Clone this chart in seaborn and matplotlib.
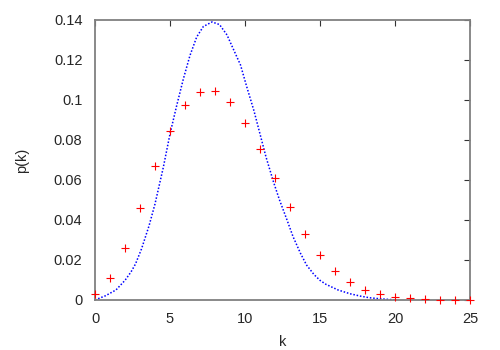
import numpy as np
import pandas as pd
import matplotlib
matplotlib.use("Agg")
import matplotlib.pyplot as plt
import seaborn as sns

# measured points (red +)
k_points = list(range(26))
p_points = [0.0028, 0.0112, 0.0262, 0.0458, 0.0670, 0.0847, 0.0973, 0.1040,
            0.1047, 0.0988, 0.0887, 0.0755, 0.0608, 0.0463, 0.0328, 0.0225,
            0.0143, 0.0088, 0.0048, 0.0028, 0.0015, 0.0008, 0.0003, 0.0002,
            0.0001, 0.00005]

# fitted curve (blue dotted)
k_curve = [0.0, 0.7, 1.4, 2.0, 2.4, 2.7, 3.1, 3.6, 4.0, 4.56, 5.0, 5.44, 5.89,
           6.33, 6.78, 7.22, 7.8, 8.3, 8.8, 9.2, 9.7, 10.1, 10.6, 11.0,
           11.4, 11.9, 12.3, 12.8, 13.2, 13.7, 14.1, 14.6, 15.0, 15.4,
           16.2, 17.0, 17.7, 18.3, 19.0, 19.7, 20.0]
p_curve = [0.0, 0.0021, 0.0050, 0.0098, 0.0140, 0.0180, 0.0255, 0.0370, 0.0480,
           0.0665, 0.0830, 0.0970, 0.1105, 0.1222, 0.1315, 0.1367, 0.1390,
           0.1377, 0.1325, 0.1258, 0.1175, 0.1070, 0.0945, 0.0830, 0.0715,
           0.0590, 0.0500, 0.0400, 0.0317, 0.0233, 0.0175, 0.0127, 0.0098,
           0.0078, 0.0050, 0.0031, 0.0019, 0.0011, 0.0006, 0.0002, 0.0]

x_ticks = [0, 5, 10, 15, 20, 25]
y_ticks = [0, 0.02, 0.04, 0.06, 0.08, 0.1, 0.12, 0.14]
y_tick_labels = ["0", "0.02", "0.04", "0.06", "0.08", "0.1", "0.12", "0.14"]

pts = pd.DataFrame({"k": k_points, "p": p_points})
curve = pd.DataFrame({"k": k_curve, "p": p_curve})

sns.set_style("white")
plt.rcParams["font.family"] = ["Liberation Sans", "DejaVu Sans"]

fig = plt.figure(figsize=(5, 3.5), dpi=100)
ax = fig.add_axes([0.19, 0.143, 0.75, 0.8])

sns.lineplot(data=curve, x="k", y="p", ax=ax, color="#0000ff",
             linestyle=(0, (1, 1.2)), linewidth=1.1, sort=False)
sns.scatterplot(data=pts, x="k", y="p", ax=ax, marker="+", color="#ff0000",
                s=40, linewidth=0.8, clip_on=False, zorder=3)

ax.set_xlim(0, 25)
ax.set_ylim(0, 0.14)
ax.set_xticks(x_ticks)
ax.set_xticklabels([str(t) for t in x_ticks])
ax.set_yticks(y_ticks)
ax.set_yticklabels(y_tick_labels)
ax.tick_params(direction="in", length=4, width=0.8, top=True, right=True,
               labelsize=10.5, color="#333333", pad=9)
for s in ax.spines.values():
    s.set_color("#808080")
    s.set_linewidth(1.3)

ax.set_xlabel("k", fontsize=10.5, labelpad=6)
ax.set_ylabel("p(k)", fontsize=10.5, labelpad=18)

fig.savefig("out.png", dpi=100)
